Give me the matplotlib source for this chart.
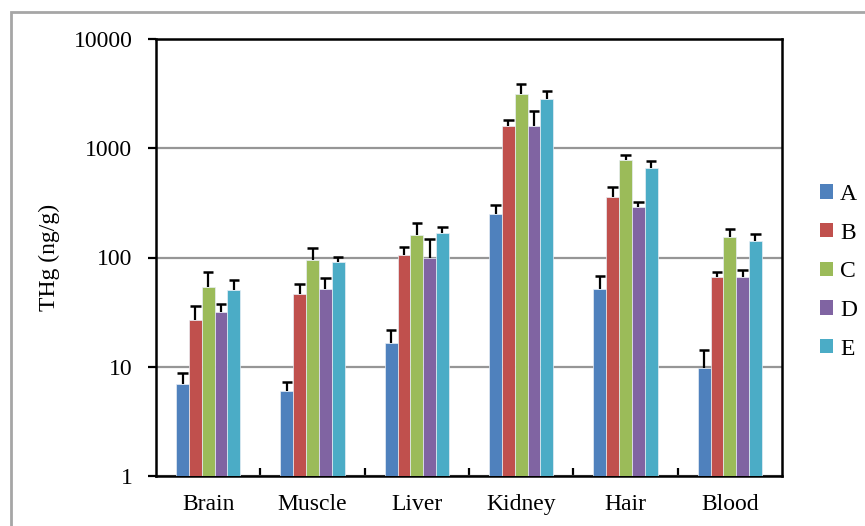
import matplotlib
matplotlib.use("Agg")
import matplotlib.pyplot as plt
from matplotlib.patches import Rectangle, Patch
from matplotlib.ticker import FixedLocator, FixedFormatter
import numpy as np

# tissue groups and treatment groups
tissues = ["Brain", "Muscle", "Liver", "Kidney", "Hair", "Blood"]
groups = ["A", "B", "C", "D", "E"]
colors = ["#4F81BD", "#C0504D", "#9BBB59", "#8064A2", "#4BACC6"]

# mean THg (ng/g) per group, ordered like tissues
mean_A = [7.0, 6.0, 16.5, 251, 51, 9.8]
mean_B = [26.6, 46, 106, 1600, 361, 66]
mean_C = [53.5, 94, 159, 3130, 774, 153]
mean_D = [31.5, 51, 100, 1600, 288, 66]
mean_E = [50.7, 91, 169, 2850, 659, 143]

# upper error (SD)
err_A = [1.8, 1.2, 5.0, 49, 17, 4.3]
err_B = [9.1, 10.7, 18, 211, 77, 7]
err_C = [19.5, 27, 47, 780, 99, 28]
err_D = [6.3, 13.7, 48, 595, 37, 11]
err_E = [11, 11, 23, 477, 98, 20]

means = [mean_A, mean_B, mean_C, mean_D, mean_E]
errs = [err_A, err_B, err_C, err_D, err_E]

plt.rcParams["font.family"] = ["Liberation Serif", "DejaVu Serif"]
plt.rcParams["font.size"] = 17

fig = plt.figure(figsize=(8.65, 5.26), dpi=100)
ax = fig.add_axes([156 / 865, 1 - 476 / 526, (782 - 156) / 865, (476 - 39) / 526])

# outer chart frame
fig.patches.append(Rectangle((11 / 865, -0.05), 1.2, 1 - 12 / 526 + 0.05,
                             transform=fig.transFigure, fill=False,
                             edgecolor="#A6A6A6", linewidth=2, zorder=0))

x = np.arange(len(tissues))
w = 0.123
cap = 0.05
for j, (m, e, c, g) in enumerate(zip(means, errs, colors, groups)):
    m = np.array(m)
    e = np.array(e)
    pos = x + (j - 2) * w
    ax.bar(pos, m - 1, width=w, bottom=1, color=c, edgecolor="#e8eef5", linewidth=0.5,
           label=g, zorder=3)
    # upper-only error bars
    ax.vlines(pos, m, m + e, color="black", linewidth=1.6, zorder=4)
    ax.hlines(m + e, pos - cap, pos + cap, color="black", linewidth=1.8, zorder=4)

ax.set_yscale("log")
ax.set_ylim(1, 10000)
ax.set_xlim(-0.5, len(tissues) - 0.5)
yt = [1, 10, 100, 1000, 10000]
ax.yaxis.set_major_locator(FixedLocator(yt))
ax.yaxis.set_major_formatter(FixedFormatter([str(v) for v in yt]))
ax.yaxis.set_minor_locator(FixedLocator([]))
ax.grid(axis="y", color="#969696", linewidth=1.6, zorder=1)
ax.set_axisbelow(True)

ax.set_xticks(x)
ax.set_xticklabels(tissues)
ax.tick_params(axis="x", which="major", length=0, pad=13)
ax.set_xticks(np.arange(0.5, len(tissues) - 1, 1), minor=True)
ax.tick_params(axis="x", which="minor", direction="in", length=6, width=1.6)
ax.tick_params(axis="y", which="major", direction="out", length=6, width=1.6, pad=11)

for s in ax.spines.values():
    s.set_linewidth(1.8)
    s.set_color("black")

ax.set_ylabel("THg (ng/g)", labelpad=10)

handles = [Patch(facecolor=c, edgecolor="none") for c in colors]
fig.legend(handles, groups, loc="upper left", bbox_to_anchor=(808 / 865, 1 - 172 / 526),
           frameon=False, handlelength=0.55, handleheight=0.55, handletextpad=0.3,
           labelspacing=0.75, borderpad=0)

fig.savefig("out.png", dpi=100)
